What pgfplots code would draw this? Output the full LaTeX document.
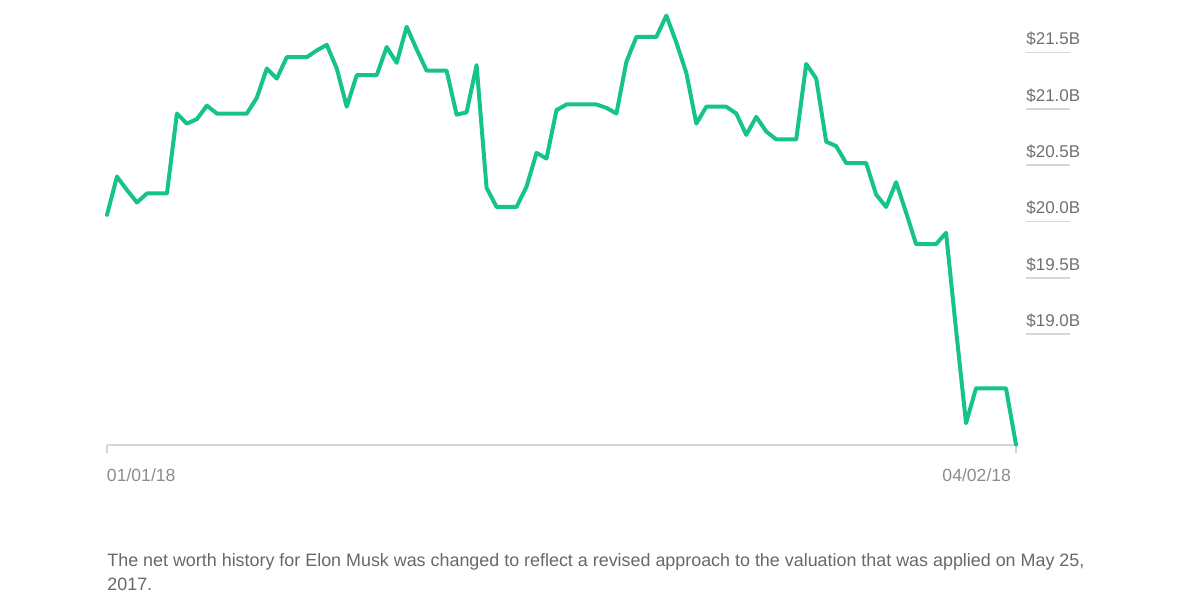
\documentclass[border=0pt]{standalone}
\usepackage{pgfplots}
\pgfplotsset{compat=1.18}
\usepackage{fontspec}
\setmainfont{Liberation Sans}

\definecolor{linegreen}{RGB}{22,196,136}
\definecolor{axisgray}{RGB}{214,214,214}
\definecolor{labelgray}{RGB}{112,112,112}
\definecolor{dategray}{RGB}{140,140,140}
\definecolor{notegray}{RGB}{104,104,104}

% net worth, $B, one point per day from 01/01/18 (day 0) to 04/02/18 (day 91)
\newcommand{\networth}{
(0,20.06) (1,20.40) (2,20.28) (3,20.17) (4,20.25) (5,20.25) (6,20.25)
(7,20.96) (8,20.87) (9,20.91) (10,21.03) (11,20.96) (12,20.96) (13,20.96)
(14,20.96) (15,21.10) (16,21.36) (17,21.27) (18,21.46) (19,21.46) (20,21.46)
(21,21.52) (22,21.57) (23,21.36) (24,21.02) (25,21.30) (26,21.30) (27,21.30)
(28,21.55) (29,21.41) (30,21.73) (31,21.53) (32,21.34) (33,21.34) (34,21.34)
(35,20.95) (36,20.97) (37,21.39) (38,20.30) (39,20.13) (40,20.13) (41,20.13)
(42,20.31) (43,20.61) (44,20.56) (45,20.99) (46,21.04) (47,21.04) (48,21.04)
(49,21.04) (50,21.01) (51,20.96) (52,21.42) (53,21.64) (54,21.64) (55,21.64)
(56,21.83) (57,21.59) (58,21.32) (59,20.87) (60,21.02) (61,21.02) (62,21.02)
(63,20.96) (64,20.77) (65,20.93) (66,20.80) (67,20.73) (68,20.73) (69,20.73)
(70,21.40) (71,21.27) (72,20.71) (73,20.67) (74,20.52) (75,20.52) (76,20.52)
(77,20.24) (78,20.13) (79,20.35) (80,20.08) (81,19.80) (82,19.80) (83,19.80)
(84,19.90) (85,19.04) (86,18.21) (87,18.52) (88,18.52) (89,18.52) (90,18.52)
(91,18.02)
}

\begin{document}
\begin{tikzpicture}
\path[use as bounding box] (-53.5pt,-77.5pt) rectangle (546.5pt,222.5pt);
\begin{axis}[
    scale only axis,
    width=454.5pt, height=222.5pt,
    xmin=0, xmax=91,
    ymin=18.016, ymax=21.968,
    clip=false,
    axis x line*=bottom,
    axis y line*=right,
    x axis line style={draw=axisgray, line width=0.8pt, -},
    y axis line style={draw=none},
    tick align=outside,
    major tick length=4pt,
    xtick={0,91},
    xtick style={draw=axisgray, line width=0.8pt},
    xticklabel={\ifnum\ticknum=0 \rlap{01/01/18}\else\llap{04/02/18\hspace{2.5pt}}\fi},
    xticklabel style={anchor=base, font=\fontsize{8.8pt}{10pt}\selectfont, text=dategray, yshift=-14pt},
    ytick={19,19.5,20,20.5,21,21.5},
    ytick style={draw=none},
    yticklabel={\rlap{\textcolor{axisgray}{\rule[-4.2pt]{22pt}{0.8pt}}}\$\pgfmathprintnumber[fixed,fixed zerofill,precision=1]{\tick}B},
    yticklabel style={anchor=base west, inner sep=0pt, xshift=1pt, yshift=3.85pt,
        font=\fontsize{8.5pt}{10pt}\selectfont, text=labelgray},
    /pgf/number format/assume math mode=true,
]
\addplot[linegreen, line width=2pt, line join=round, line cap=round] coordinates {\networth};
\end{axis}
\node[anchor=base west, align=left, inner sep=0pt, text=notegray,
      font=\fontsize{8.95pt}{11.75pt}\selectfont] at (0,-72.6pt)
    {The net worth history for Elon Musk was changed to reflect a revised approach to the valuation that was applied on May 25,\\2017.};
\end{tikzpicture}
\end{document}
